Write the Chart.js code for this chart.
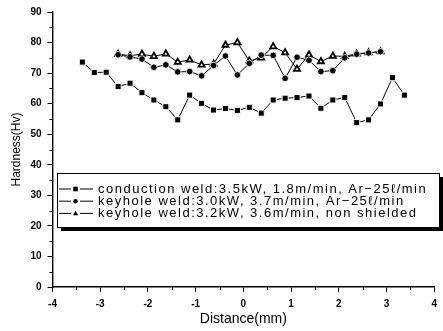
<!DOCTYPE html>
<html>
<head>
<meta charset="utf-8">
<script src="https://cdn.jsdelivr.net/npm/chart.js@4.4.1/dist/chart.umd.min.js"></script>
<style>
  body { margin: 0; background: #fff; }
  #wrap { width: 443px; height: 331px; }
</style>
</head>
<body>
<div id="wrap"><canvas id="myChart"></canvas></div>
<script>
// data
const distConduction = [-3.375, -3.125, -2.875, -2.625, -2.375, -2.125, -1.875, -1.625, -1.375, -1.125,
  -0.875, -0.625, -0.375, -0.125, 0.125, 0.375, 0.625, 0.875, 1.125, 1.375,
  1.625, 1.875, 2.125, 2.375, 2.625, 2.875, 3.125, 3.375];
const hvConduction = [73.6, 70.2, 70.3, 65.6, 66.7, 63.6, 61.2, 59.0, 54.7, 62.8,
  60.1, 57.9, 58.4, 57.8, 58.8, 56.9, 61.2, 61.8, 62.0, 62.5,
  58.5, 61.2, 62.0, 53.8, 54.7, 59.9, 68.5, 62.8];
const distKeyhole = [-2.625, -2.375, -2.125, -1.875, -1.625, -1.375, -1.125, -0.875, -0.625, -0.375,
  -0.125, 0.125, 0.375, 0.625, 0.875, 1.125, 1.375, 1.625, 1.875, 2.125,
  2.375, 2.625, 2.875];
const hvKeyholeAr = [76.0, 75.3, 74.6, 71.9, 72.7, 70.4, 70.5, 69.1, 72.5, 75.6,
  69.4, 73.2, 75.9, 75.8, 68.3, 75.2, 74.2, 70.5, 70.8, 75.0,
  76.2, 76.6, 77.0];
const hvKeyholeOpen = [76.2, 75.7, 76.2, 75.5, 76.3, 73.6, 74.3, 72.7, 73.0, 79.2,
  80.0, 74.0, 75.0, 78.7, 76.7, 71.3, 76.0, 73.8, 75.6, 75.5,
  76.3, 76.7, 77.0];
const seriesLabels = [
  'conduction weld:3.5kW, 1.8m/min, Ar\u221225\u2113/min',
  'keyhole weld:3.0kW, 3.7m/min, Ar\u221225\u2113/min',
  'keyhole weld:3.2kW, 3.6m/min, non shielded'
];
const xTickValues = [-4, -3, -2, -1, 0, 1, 2, 3, 4];
const yTickValues = [0, 10, 20, 30, 40, 50, 60, 70, 80, 90];

const FONT = '"Liberation Sans", Arial, sans-serif';

function toPoints(xs, ys) {
  return xs.map((x, i) => ({ x: x, y: ys[i] }));
}

function drawMarker(ctx, style, x, y, r) {
  ctx.beginPath();
  if (style === 'rect') {
    ctx.rect(x - r, y - r, 2 * r, 2 * r);
  } else if (style === 'circle') {
    ctx.arc(x, y, r, 0, Math.PI * 2);
  } else {
    ctx.moveTo(x, y - r * 1.2);
    ctx.lineTo(x + r * 1.1, y + r * 0.8);
    ctx.lineTo(x - r * 1.1, y + r * 0.8);
    ctx.closePath();
  }
  ctx.fill();
}

// legend box with drop shadow, inside the plot
const boxLegend = {
  id: 'boxLegend',
  afterDraw(chart) {
    const ctx = chart.ctx;
    const bx = 57, by = 173, bw = 382, bh = 54;
    ctx.save();
    ctx.fillStyle = '#000';
    ctx.fillRect(bx + 4, by + 4, bw, bh);
    ctx.fillStyle = '#fff';
    ctx.fillRect(bx, by, bw, bh);
    ctx.strokeStyle = '#000';
    ctx.lineWidth = 1;
    ctx.strokeRect(bx + 0.5, by + 0.5, bw, bh);
    chart.data.datasets.forEach((ds, i) => {
      const ly = 189 + i * 12.2;
      ctx.strokeStyle = '#000';
      ctx.lineWidth = 1;
      ctx.beginPath();
      ctx.moveTo(59, ly); ctx.lineTo(71, ly);
      ctx.moveTo(80, ly); ctx.lineTo(93, ly);
      ctx.stroke();
      ctx.fillStyle = '#000';
      drawMarker(ctx, ds.pointStyle, 75.5, ly, 2.3);
      ctx.font = '13px ' + FONT;
      ctx.letterSpacing = '1.5px';
      ctx.textBaseline = 'middle';
      ctx.fillText(ds.label, 98, ly);
    });
    ctx.restore();
  }
};

// minor ticks at half steps
const minorTicks = {
  id: 'minorTicks',
  afterDraw(chart) {
    const ctx = chart.ctx;
    const xs = chart.scales.x, ys = chart.scales.y;
    ctx.save();
    ctx.strokeStyle = '#000';
    ctx.lineWidth = 1;
    ctx.beginPath();
    for (let i = 0; i < yTickValues.length - 1; i++) {
      const py = Math.round(ys.getPixelForValue((yTickValues[i] + yTickValues[i + 1]) / 2)) + 0.5;
      ctx.moveTo(ys.right - 3, py); ctx.lineTo(ys.right, py);
    }
    for (let i = 0; i < xTickValues.length - 1; i++) {
      const px = Math.round(xs.getPixelForValue((xTickValues[i] + xTickValues[i + 1]) / 2)) + 0.5;
      ctx.moveTo(px, xs.top); ctx.lineTo(px, xs.top + 3);
    }
    ctx.stroke();
    ctx.restore();
  }
};

const ctx = document.getElementById('myChart');

new Chart(ctx, {
  type: 'scatter',
  data: {
    datasets: [{
      label: seriesLabels[0],
      data: toPoints(distConduction, hvConduction),
      showLine: true,
      borderColor: '#000',
      borderWidth: 1,
      pointStyle: 'rect',
      pointRadius: 4.3,
      pointBackgroundColor: '#000',
      pointBorderColor: '#fff',
      pointBorderWidth: 1
    }, {
      label: seriesLabels[1],
      data: toPoints(distKeyhole, hvKeyholeAr),
      showLine: true,
      borderColor: '#000',
      borderWidth: 1,
      pointStyle: 'circle',
      pointRadius: 3.3,
      pointBackgroundColor: '#000',
      pointBorderColor: '#fff',
      pointBorderWidth: 0.8
    }, {
      label: seriesLabels[2],
      data: toPoints(distKeyhole, hvKeyholeOpen),
      showLine: true,
      borderColor: '#000',
      borderWidth: 1,
      pointStyle: 'triangle',
      pointRadius: 3.5,
      pointBackgroundColor: '#fff',
      pointBorderColor: '#000',
      pointBorderWidth: 1.8
    }]
  },
  options: {
    responsive: true,
    maintainAspectRatio: false,
    animation: false,
    layout: { padding: { top: 12, right: 3, left: 0, bottom: 0 } },
    plugins: {
      legend: { display: false },
      tooltip: { enabled: false }
    },
    scales: {
      x: {
        type: 'linear',
        min: -4,
        max: 4,
        afterBuildTicks: (scale) => { scale.ticks = xTickValues.map(v => ({ value: v })); },
        afterFit: (scale) => { scale.height = 44; },
        ticks: {
          color: '#000',
          padding: 6,
          font: { family: FONT, size: 10, weight: 'bold' }
        },
        grid: {
          drawOnChartArea: false,
          tickLength: 5,
          tickColor: '#000',
          tickWidth: 1
        },
        border: { color: '#000', width: 1.6 },
        title: {
          display: true,
          text: 'Distance(mm)',
          color: '#000',
          font: { family: FONT, size: 14 },
          padding: { top: 0, bottom: 3 }
        }
      },
      y: {
        type: 'linear',
        min: 0,
        max: 90,
        afterBuildTicks: (scale) => { scale.ticks = yTickValues.map(v => ({ value: v })); },
        afterFit: (scale) => { scale.width = 52.5; },
        ticks: {
          color: '#000',
          padding: 6,
          font: { family: FONT, size: 10, weight: 'bold' }
        },
        grid: {
          drawOnChartArea: false,
          tickLength: 5,
          tickColor: '#000',
          tickWidth: 1
        },
        border: { color: '#000', width: 1.4 },
        title: {
          display: true,
          text: 'Hardness(Hv)',
          color: '#000',
          font: { family: FONT, size: 12 },
          padding: { top: 9, bottom: 0 }
        }
      }
    }
  },
  plugins: [minorTicks, boxLegend]
});
</script>
</body>
</html>
